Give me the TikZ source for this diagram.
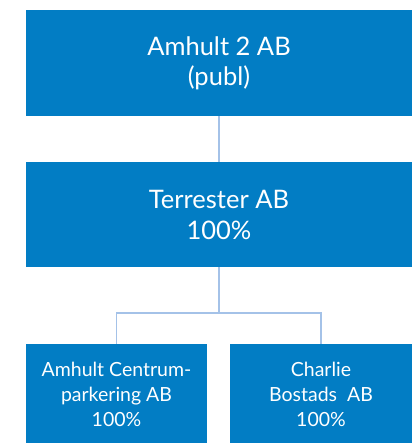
\documentclass[tikz,border=0pt]{standalone}
\usepackage{fontspec}
\setmainfont{Lato}
\definecolor{boxblue}{HTML}{027DC4}
\definecolor{linkblue}{HTML}{A4C2E8}
\begin{document}
\begin{tikzpicture}[x=1pt,y=-1pt,
  orgbox/.style={fill=boxblue, draw=none, text=white, align=center, inner sep=0pt},
  link/.style={draw=linkblue, line width=1.6pt}]
\useasboundingbox (0,0) rectangle (416,443);
\fill[white] (0,0) rectangle (416,443);
\node[orgbox, minimum width=386pt, minimum height=106pt, font=\fontsize{25.5}{30}\selectfont] (top) at (219,63) {Amhult 2 AB\\(publ)};
\node[orgbox, minimum width=386pt, minimum height=105pt, font=\fontsize{25.5}{31}\selectfont] (mid) at (219,214.5) {Terrester AB\\100\%};
\node[orgbox, minimum width=181pt, minimum height=100pt, font=\fontsize{19.5}{25}\selectfont] (bl) at (116.5,394) {Amhult Centrum-\\parkering AB\\100\%};
\node[orgbox, minimum width=182pt, minimum height=100pt, font=\fontsize{19.5}{25}\selectfont] (br) at (321,394) {Charlie\\Bostads\ \ AB\\100\%};
\coordinate (j) at (219,313);
\draw[link] (top.south) -- (mid.north);
\draw[link] (mid.south) -- (j);
\draw[link] (j) -| (bl.north);
\draw[link] (j) -| (br.north);
\end{tikzpicture}
\end{document}
